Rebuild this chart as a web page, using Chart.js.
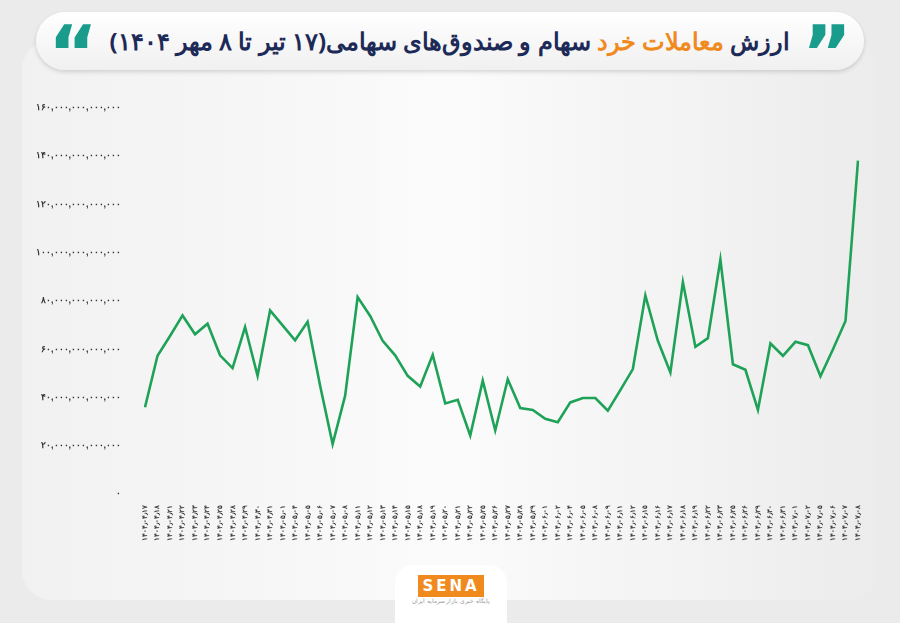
<!DOCTYPE html>
<html><head><meta charset="utf-8">
<script src="https://cdn.jsdelivr.net/npm/chart.js@4"></script>
<style>
body{margin:0;width:900px;height:623px;background:#ebebeb;font-family:"Noto Sans",sans-serif;overflow:hidden;position:relative}
#card{position:absolute;left:22px;top:40px;width:856px;height:560px;border-radius:30px;background:linear-gradient(90deg,#f1f1f1,#fbfbfb 50%,#ececec)}
#title{position:absolute;left:36px;top:12px;width:828px;height:58px;border-radius:29px;background:linear-gradient(#fff,#f0f0f0);box-shadow:0 2px 4px rgba(0,0,0,.15);direction:rtl;text-align:center;font:bold 24px "Noto Sans";color:#1d2a57;line-height:58px;white-space:nowrap}
#title .o{color:#f08a1f}
.q{position:absolute;top:4px;font:bold 76px "DejaVu Sans";color:#1a9c8c;line-height:76px}
#wrap{position:absolute;left:20px;top:86px;width:850px;height:458px}
#logo{position:absolute;left:395px;top:565px;width:112px;height:58px;background:#fff;border-radius:18px 18px 0 0;text-align:center}
#logo b{display:inline-block;margin-top:10px;background:#f08a1f;color:#fff;font:bold 15px "DejaVu Sans";letter-spacing:3px;padding:2px 4px}
#logo div{font-size:6px;color:#999;direction:rtl}
</style></head><body>
<div id="card"></div>
<div id="title"><span class="q" style="right:12px">”</span><span class="q" style="left:12px">“</span>
ارزش <span class="o">معاملات خرد</span> سهام و صندوق‌های سهامی(۱۷ تیر تا ۸ مهر ۱۴۰۴)</div>
<div id="wrap"><canvas id="chart"></canvas></div>
<div id="logo"><b>SENA</b><div>پایگاه خبری بازار سرمایه ایران</div></div>
<script>
const dates = [
  "04-17","04-18","04-21","04-22","04-23","04-24","04-25","04-28","04-29","04-30","04-31",
  "05-01","05-04","05-05","05-06","05-07","05-08","05-11","05-12","05-13","05-14","05-15","05-18","05-19","05-20","05-21","05-22","05-25","05-26","05-27","05-28","05-29",
  "06-01","06-02","06-04","06-05","06-08","06-09","06-11","06-12","06-15","06-16","06-17","06-18","06-19","06-22","06-23","06-25","06-26","06-29","06-30","06-31",
  "07-01","07-02","07-05","07-06","07-07","07-08"
];
// values in trillions (axis shows value * 1e12)
const values = [
  35.9,57.2,65.4,73.9,66.1,70.5,57.4,52.1,69.1,48.9,76.0,69.8,63.6,71.3,44.8,20.7,40.7,81.5,73.7,63.4,
  57.4,48.9,44.5,57.6,37.5,39.0,24.2,46.9,26.3,47.5,35.6,34.8,31.1,29.7,37.9,39.7,39.7,34.5,43.0,51.7,
  82.2,63.4,50.3,87.7,60.9,64.5,97.0,53.7,51.4,34.8,62.3,57.2,63.0,61.6,48.7,59.9,71.6,138.0
];
const fa = s => String(s).replace(/\d/g, d => "۰۱۲۳۴۵۶۷۸۹"[d]);
const labels = dates.map(d => fa("1404-" + d).replace(/-/g, "٫"));

new Chart(document.getElementById("chart"), {
  type: "line",
  data: {
    labels: labels,
    datasets: [{
      data: values.map(v => v * 1e12),
      borderColor: "#1ea257",
      borderWidth: 2.6,
      pointRadius: 0,
      tension: 0
    }]
  },
  options: {
    responsive: true,
    maintainAspectRatio: false,
    animation: false,
    layout: { padding: { left: 0, right: 12, top: 8, bottom: 0 } },
    plugins: { legend: { display: false }, tooltip: { enabled: false } },
    scales: {
      x: {
        offset: false,
        grid: { display: false },
        border: { display: false },
        ticks: { autoSkip: false, maxRotation: 90, minRotation: 90, color: "#333", font: { size: 7, weight: "bold" } }
      },
      y: {
        min: 0, max: 160e12,
        grid: { display: false },
        border: { display: false },
        ticks: {
          stepSize: 20e12, color: "#333", padding: 16,
          font: { size: 9, weight: "bold" },
          callback: v => fa(v.toLocaleString("en-US"))
        }
      }
    }
  }
});
</script>
</body></html>
